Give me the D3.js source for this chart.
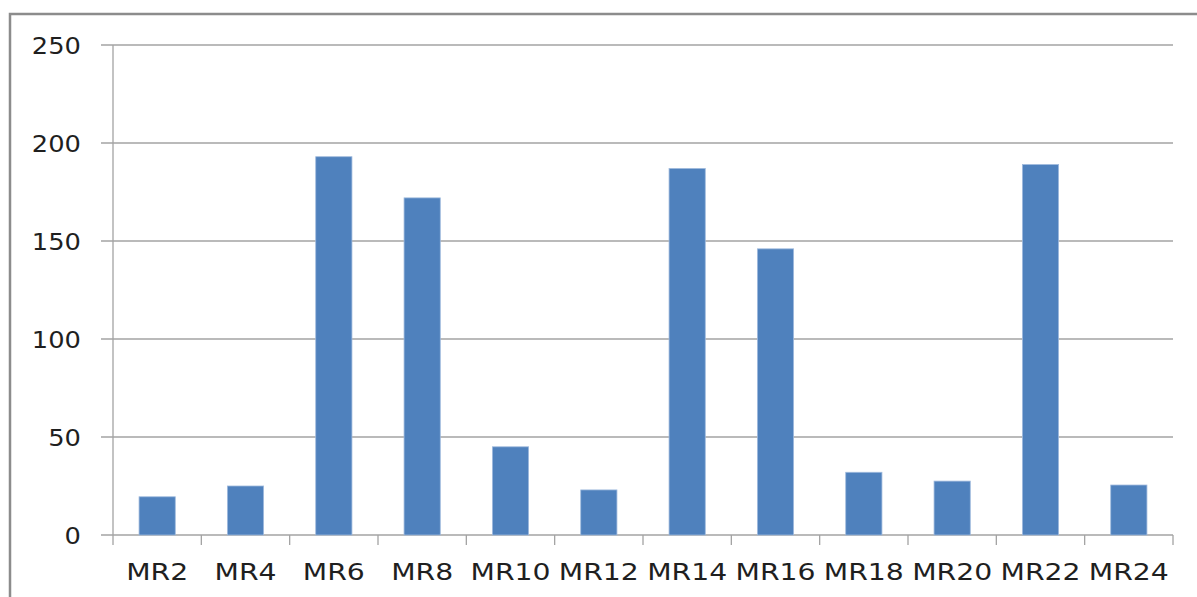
<!DOCTYPE html>
<html>
<head>
<meta charset="utf-8">
<script src="https://cdn.jsdelivr.net/npm/d3@7"></script>
<style>
  html, body { margin: 0; padding: 0; background: #fff; }
  svg { display: block; }
  text { font-family: "DejaVu Sans", sans-serif; fill: #1f1f1f; }
</style>
</head>
<body>
<svg id="chart" width="1197" height="597"></svg>
<script>
// Category names, values and y tick labels
const categories = ["MR2", "MR4", "MR6", "MR8", "MR10", "MR12", "MR14", "MR16", "MR18", "MR20", "MR22", "MR24"];
const values = [19.5, 25, 193, 172, 45, 23, 187, 146, 32, 27.5, 189, 25.5];
const yTicks = [0, 50, 100, 150, 200, 250];

const svg = d3.select("#chart");
const W = 1197, H = 597;
const plot = { left: 113, right: 1173, top: 45, bottom: 535 };

// Outer chart frame (runs off the right and bottom edges)
svg.append("rect")
  .attr("x", 10).attr("y", 14)
  .attr("width", W + 20).attr("height", H + 20)
  .attr("fill", "#fff")
  .attr("stroke", "#8c8c8c")
  .attr("stroke-width", 2.5);

const y = d3.scaleLinear().domain([0, 250]).range([plot.bottom, plot.top]);

// slots for each category, bars centred in their slot
const slot = d3.scaleBand().domain(categories).range([plot.left, plot.right]).padding(0);
const x = d3.scaleBand().domain(categories).range([plot.left, plot.right])
  .paddingInner(0.59).paddingOuter(0.295);

// horizontal gridlines with small ticks left of the axis
svg.append("g").selectAll("line")
  .data(yTicks)
  .join("line")
  .attr("x1", plot.left - 12).attr("x2", plot.right)
  .attr("y1", d => y(d)).attr("y2", d => y(d))
  .attr("stroke", "#a3a3a3")
  .attr("stroke-width", 1.3);

// vertical axis line
svg.append("line")
  .attr("x1", plot.left).attr("x2", plot.left)
  .attr("y1", y(250)).attr("y2", y(0))
  .attr("stroke", "#a3a3a3").attr("stroke-width", 1.3);

// y tick labels
svg.append("g").selectAll("text")
  .data(yTicks)
  .join("text")
  .attr("transform", d => `translate(81,${y(d) + 1}) scale(1.12,1)`)
  .attr("text-anchor", "end")
  .attr("dominant-baseline", "central")
  .attr("font-size", 23)
  .text(d => d);

// bars
svg.append("g").selectAll("rect")
  .data(categories.map((c, i) => ({ c, v: values[i] })))
  .join("rect")
  .attr("x", d => x(d.c))
  .attr("width", x.bandwidth())
  .attr("y", d => y(d.v))
  .attr("height", d => y(0) - y(d.v))
  .attr("fill", "#4f81bd")
  .attr("stroke", "#9fbadd")
  .attr("stroke-width", 0.8);

// category tick marks on the x axis
const tickXs = categories.map(c => slot(c)).concat([plot.right]);
svg.append("g").selectAll("line")
  .data(tickXs)
  .join("line")
  .attr("x1", d => d).attr("x2", d => d)
  .attr("y1", y(0)).attr("y2", y(0) + 10)
  .attr("stroke", "#a3a3a3").attr("stroke-width", 1.3);

// category labels
svg.append("g").selectAll("text")
  .data(categories)
  .join("text")
  .attr("transform", d => `translate(${slot(d) + slot.bandwidth() / 2},580) scale(1.23,1)`)
  .attr("text-anchor", "middle")
  .attr("font-size", 23)
  .text(d => d);
</script>
</body>
</html>
